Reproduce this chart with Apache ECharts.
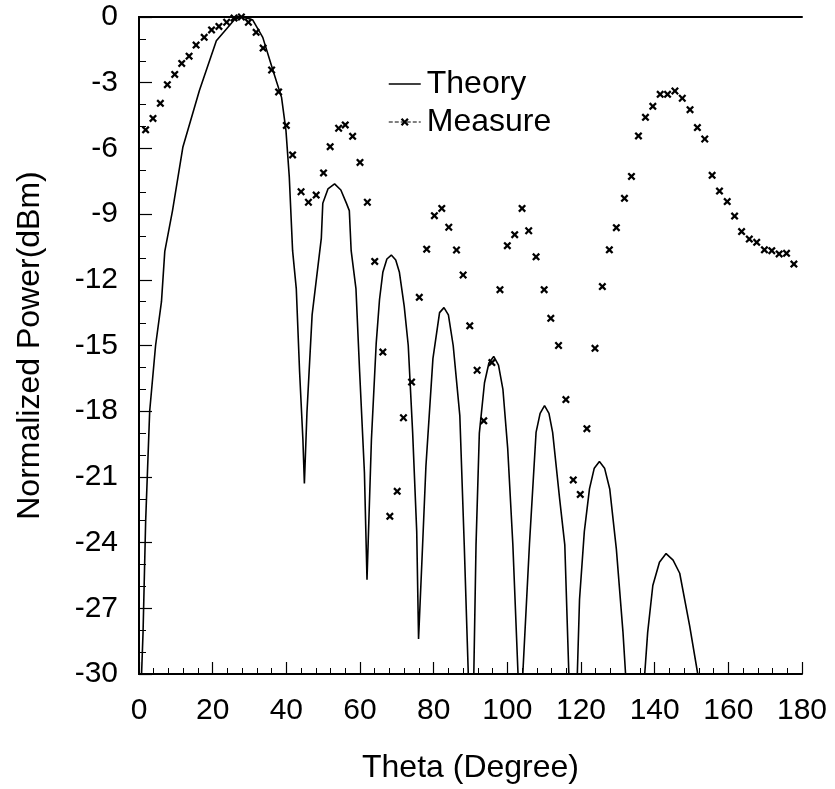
<!DOCTYPE html>
<html>
<head>
<meta charset="utf-8">
<script src="https://cdn.jsdelivr.net/npm/echarts@6/dist/echarts.min.js"></script>
<style>
html,body{margin:0;padding:0;background:#fff;}
#chart{width:835px;height:789px;}
</style>
</head>
<body>
<div id="chart"></div>
<script>
// Axis settings
const xTicks = [0, 20, 40, 60, 80, 100, 120, 140, 160, 180];
const yTicks = [0, -3, -6, -9, -12, -15, -18, -21, -24, -27, -30];
const seriesNames = ['Theory', 'Measure'];

// Measured points (theta in degrees, power in dBm)
const measureTheta = [1.8, 3.8, 5.8, 7.7, 9.7, 11.6, 13.6, 15.5, 17.7, 19.7, 21.7, 23.8, 25.8, 27.8, 29.7, 31.8, 33.7, 36.0, 37.9, 40.0,
  41.7, 44.0, 46.0, 48.1, 50.1, 51.9, 54.2, 56.0, 58.0, 60.0, 62.0, 64.0, 66.2, 68.1, 70.1, 71.8, 74.0, 76.1, 78.1, 80.2,
  82.2, 84.1, 86.2, 88.0, 89.8, 91.8, 93.6, 95.8, 98.0, 100.0, 102.0, 104.0, 105.8, 107.8, 110.0, 111.8, 113.9, 115.9, 117.9, 119.8,
  121.6, 123.8, 125.8, 127.7, 129.6, 131.8, 133.7, 135.6, 137.5, 139.5, 141.5, 143.5, 145.5, 147.5, 149.6, 151.6, 153.6, 155.6, 157.6, 159.7,
  161.7, 163.6, 165.7, 167.7, 169.8, 171.8, 173.8, 175.8, 177.8];
const measurePower = [-5.15, -4.63, -3.94, -3.09, -2.62, -2.12, -1.79, -1.28, -0.93, -0.59, -0.43, -0.24, -0.05, 0.0, -0.24, -0.7, -1.42, -2.42, -3.42, -4.95,
  -6.3, -7.98, -8.46, -8.13, -7.12, -5.92, -5.08, -4.93, -5.45, -6.64, -8.46, -11.16, -15.3, -22.8, -21.66, -18.3, -16.67, -12.8, -10.6, -9.07,
  -8.74, -9.6, -10.64, -11.78, -14.1, -16.13, -18.44, -15.78, -12.45, -10.44, -9.94, -8.74, -9.76, -10.95, -12.45, -13.76, -15.0, -17.47, -21.14, -21.8,
  -18.8, -15.13, -12.31, -10.63, -9.62, -8.28, -7.28, -5.43, -4.58, -4.08, -3.53, -3.53, -3.38, -3.71, -4.23, -5.05, -5.57, -7.23, -7.95, -8.43,
  -9.09, -9.8, -10.14, -10.29, -10.63, -10.67, -10.82, -10.79, -11.28];

// Theory curve (theta in degrees, power in dBm)
const theoryTheta = [0.7, 1.1, 1.8, 2.9, 4.5, 6.1, 7.0, 9.1, 11.9, 16.4, 21.0, 24.5, 26.0, 27.7, 29.3, 30.9, 33.6, 36.4, 38.7, 39.9,
  40.8, 41.7, 42.7, 43.6, 44.5, 44.9, 45.6, 47.0, 49.5, 49.9, 51.3, 53.1, 54.8, 56.3, 57.1, 57.6, 58.9, 59.9, 61.2, 61.9,
  63.1, 64.4, 65.3, 66.2, 67.3, 68.5, 69.7, 70.7, 72.0, 73.1, 74.3, 75.4, 75.9,
  77.0, 77.9, 79.8, 81.6, 82.8, 84.0, 85.3, 87.1, 88.3, 89.4, 90.9,
  91.5, 92.4, 93.8, 95.0, 96.3, 97.6, 98.8, 100.1, 101.5, 102.9, 104.2,
  106.0, 107.8, 108.9, 110.1, 111.3, 112.3, 114.2, 115.6, 116.7, 119.0,
  119.6, 120.9, 122.3, 123.6, 125.0, 126.4, 127.8, 129.6, 131.4, 132.1, 137.3,
  138.1, 139.5, 141.3, 143.1, 145.0, 146.8, 149.5, 151.7];
const theoryPower = [-30, -28.1, -23.06, -18.0, -15.0, -13.0, -10.7, -8.84, -5.95, -3.36, -1.08, -0.4, -0.1, 0, -0.05, -0.14, -0.93, -2.45, -3.67, -5.19,
  -7.3, -10.67, -12.4, -16.2, -19.3, -21.3, -18.05, -13.6, -10.1, -8.5, -7.85, -7.62, -7.9, -8.5, -8.84, -10.67, -12.4, -16.2, -20.8, -25.7,
  -19.3, -14.9, -12.9, -11.66, -11.05, -10.87, -11.1, -11.66, -13.2, -15.0, -19.0, -23.5, -28.4,
  -24.1, -20.5, -15.6, -13.5, -13.27, -13.6, -15.0, -18.2, -24.1, -30, -30,
  -24.1, -19.0, -16.7, -15.8, -15.5, -15.9, -17.0, -19.7, -24.1, -30, -30,
  -24.1, -18.97, -18.1, -17.75, -18.1, -18.97, -22.0, -24.1, -30, -30,
  -26.6, -23.5, -21.55, -20.6, -20.3, -20.6, -21.55, -24.3, -28.1, -30, -30,
  -28.1, -25.96, -24.9, -24.5, -24.8, -25.4, -27.8, -30];

const theoryData = theoryTheta.map((t, i) => [t, theoryPower[i]]);
const measureData = measureTheta.map((t, i) => [t, measurePower[i]]);

const FONT = '"Liberation Sans", Arial, sans-serif';
const xMark = 'path://M0,2 L2,0 L5,3 L8,0 L10,2 L7,5 L10,8 L8,10 L5,7 L2,10 L0,8 L3,5 Z';

const chart = echarts.init(document.getElementById('chart'), null, {renderer: 'canvas'});
chart.setOption({
  animation: false,
  backgroundColor: '#fff',
  textStyle: {fontFamily: FONT, color: '#000'},
  grid: {left: 139, right: 33, top: 17, bottom: 114},
  legend: {
    orient: 'vertical',
    left: 383,
    top: 63,
    itemWidth: 32,
    itemHeight: 10,
    itemGap: 6,
    textStyle: {fontFamily: FONT, fontSize: 32, color: '#000', padding: [0, 0, 0, 1]},
    data: [
      {name: 'Theory', itemStyle: {color: 'rgba(0,0,0,0)', borderWidth: 0}, lineStyle: {width: 1.5, color: '#000', opacity: 1}},
      {name: 'Measure', itemStyle: {color: '#000'}, lineStyle: {opacity: 1, type: 'dashed', width: 1, color: '#000'}}
    ]
  },
  xAxis: [{
    type: 'value', min: 0, max: 180, interval: 20,
    name: 'Theta (Degree)', nameLocation: 'middle', nameGap: 78,
    nameTextStyle: {fontFamily: FONT, fontSize: 32, color: '#000'},
    axisLine: {show: true, onZero: false, lineStyle: {color: '#000', width: 2}},
    axisTick: {show: true, inside: true, length: 12, lineStyle: {color: '#000', width: 1.2}},
    minorTick: {show: true, splitNumber: 5, length: 6, lineStyle: {color: '#000', width: 1}},
    axisLabel: {fontFamily: FONT, fontSize: 30, color: '#000', margin: 22,
      formatter: v => xTicks.includes(v) ? String(v) : ''},
    splitLine: {show: false}
  }, {
    type: 'value', position: 'top', min: 0, max: 180,
    axisLine: {show: true, lineStyle: {color: '#000', width: 2}},
    axisTick: {show: false}, axisLabel: {show: false}, splitLine: {show: false}
  }],
  yAxis: [{
    type: 'value', min: -30, max: 0, interval: 3,
    name: 'Normalized Power(dBm)', nameLocation: 'middle', nameGap: 93,
    nameTextStyle: {fontFamily: FONT, fontSize: 32, color: '#000'},
    axisLine: {show: true, onZero: false, lineStyle: {color: '#000', width: 2}},
    axisTick: {show: true, inside: true, length: 13, lineStyle: {color: '#000', width: 1.2}},
    minorTick: {show: true, splitNumber: 3, length: 7, lineStyle: {color: '#000', width: 1}},
    axisLabel: {fontFamily: FONT, fontSize: 30, color: '#000', margin: 21,
      formatter: v => yTicks.includes(v) ? String(v) : ''},
    splitLine: {show: false}
  }, {
    type: 'value', position: 'right', min: -30, max: 0, interval: 3,
    axisLine: {show: true, lineStyle: {color: '#000', width: 2}},
    axisTick: {show: false}, axisLabel: {show: false}, splitLine: {show: false}
  }],
  series: [{
    name: 'Theory', type: 'line', data: theoryData, smooth: false,
    showSymbol: false, symbol: 'circle',
    lineStyle: {color: '#000', width: 1.6},
    itemStyle: {color: '#000'},
    clip: true
  }, {
    name: 'Measure', type: 'line', data: measureData,
    symbol: xMark, symbolSize: 8, showSymbol: true,
    lineStyle: {opacity: 0, width: 0},
    itemStyle: {color: '#000'},
    clip: true
  }]
});
</script>
</body>
</html>
